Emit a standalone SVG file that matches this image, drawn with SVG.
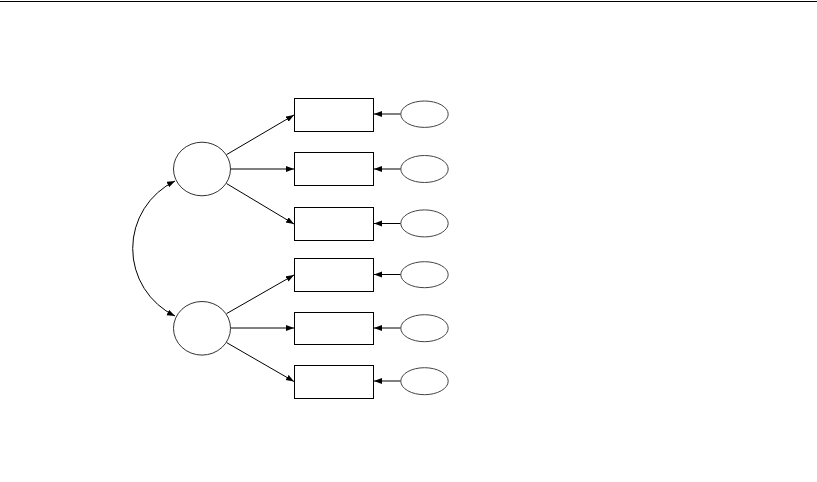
<svg xmlns="http://www.w3.org/2000/svg" width="817" height="482" viewBox="0 0 817 482">
<style>
.box{fill:#fff;stroke:#000;stroke-width:1}
.lat{fill:#fff;stroke:#333;stroke-width:1}
.err{fill:#fff;stroke:#444;stroke-width:1}
.con{fill:none;stroke:#000;stroke-width:1}
</style>
<defs>
<marker id="ah" markerUnits="userSpaceOnUse" markerWidth="9" markerHeight="7" refX="8" refY="3" orient="auto-start-reverse">
<path d="M0,0 L8,3 L0,6 z" fill="#000"/>
</marker>
</defs>
<line x1="0" y1="1.5" x2="817" y2="1.5" stroke="#000" stroke-width="1.2"/>
<g id="connectors">
<path class="con" d="M226.6,154.6 L294,115" marker-end="url(#ah)"/>
<path class="con" d="M230.5,169 L294,169" marker-end="url(#ah)"/>
<path class="con" d="M226.6,183.6 L294,224" marker-end="url(#ah)"/>
<path class="con" d="M226.6,313.6 L294,275" marker-end="url(#ah)"/>
<path class="con" d="M230.5,328 L294,328" marker-end="url(#ah)"/>
<path class="con" d="M226.6,342.6 L294,381.5" marker-end="url(#ah)"/>
<path class="con" d="M400.8,114 L374,114" marker-end="url(#ah)"/>
<path class="con" d="M400.8,169 L374,169" marker-end="url(#ah)"/>
<path class="con" d="M400.8,223.5 L374,223.5" marker-end="url(#ah)"/>
<path class="con" d="M400.8,274.5 L374,274.5" marker-end="url(#ah)"/>
<path class="con" d="M400.8,328 L374,328" marker-end="url(#ah)"/>
<path class="con" d="M400.8,381 L374,381" marker-end="url(#ah)"/>
<path class="con" d="M175,181 A75,75 0 0 0 175,316" marker-start="url(#ah)" marker-end="url(#ah)"/>
</g>
<g id="F1"><ellipse class="lat" cx="202" cy="169" rx="28.5" ry="26.8"/></g>
<g id="F2"><ellipse class="lat" cx="202" cy="328.3" rx="28.5" ry="26.8"/></g>
<g id="x1"><rect class="box" x="294.5" y="98.5" width="79" height="33"/></g>
<g id="x2"><rect class="box" x="294.5" y="152.5" width="79" height="33"/></g>
<g id="x3"><rect class="box" x="294.5" y="207.5" width="79" height="33"/></g>
<g id="x4"><rect class="box" x="294.5" y="258.5" width="79" height="33"/></g>
<g id="x5"><rect class="box" x="294.5" y="312.5" width="79" height="32"/></g>
<g id="x6"><rect class="box" x="294.5" y="365.5" width="79" height="33"/></g>
<g id="e1"><ellipse class="err" cx="424.5" cy="114.2" rx="23.7" ry="13.2"/></g>
<g id="e2"><ellipse class="err" cx="424.5" cy="169" rx="23.7" ry="13.5"/></g>
<g id="e3"><ellipse class="err" cx="424.5" cy="223.4" rx="23.7" ry="13.5"/></g>
<g id="e4"><ellipse class="err" cx="424.5" cy="274.7" rx="23.7" ry="13"/></g>
<g id="e5"><ellipse class="err" cx="424.5" cy="328.2" rx="23.7" ry="13.5"/></g>
<g id="e6"><ellipse class="err" cx="424.5" cy="381.2" rx="23.7" ry="13.5"/></g>
</svg>
